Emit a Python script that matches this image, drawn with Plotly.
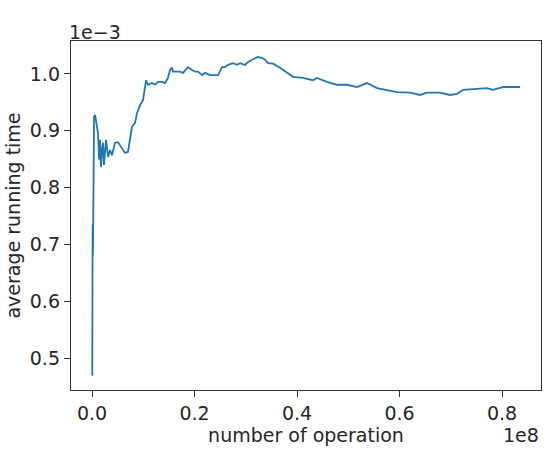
import plotly.graph_objects as go

# number of operation (in units of 1e8)
ops = [0.0, 0.0005, 0.0012, 0.0015, 0.0018, 0.002, 0.004, 0.006, 0.0117, 0.0137, 0.0156,
       0.0176, 0.0195, 0.0215, 0.0234, 0.0273, 0.0312, 0.0351, 0.039, 0.0449, 0.0507,
       0.0566, 0.0644, 0.0702, 0.0741, 0.078, 0.0839, 0.0878, 0.0937, 0.0995, 0.1054,
       0.1093, 0.1171, 0.1229, 0.1288, 0.1366, 0.1424, 0.1483, 0.1522, 0.1561, 0.1580,
       0.1659, 0.1717, 0.1776, 0.1873, 0.1951, 0.2010, 0.2068, 0.2146, 0.2205, 0.2302,
       0.2400, 0.2459, 0.2537, 0.2595, 0.2654, 0.2751, 0.2829, 0.2888, 0.2985, 0.3044,
       0.3122, 0.3180, 0.3239, 0.3317, 0.3376, 0.3434, 0.3532, 0.3668, 0.3805, 0.3922,
       0.4117, 0.4312, 0.4390, 0.4585, 0.4780, 0.4976, 0.5171, 0.5366, 0.5561, 0.5756,
       0.5951, 0.6205, 0.6400, 0.6537, 0.6790, 0.6985, 0.7122, 0.7239, 0.7512, 0.7707,
       0.7824, 0.8020, 0.8351]

# average running time (in units of 1e-3)
avg_time = [0.470, 0.470, 0.735, 0.680, 0.730, 0.700, 0.925, 0.928, 0.896, 0.849, 0.884,
            0.836, 0.866, 0.879, 0.840, 0.884, 0.854, 0.866, 0.857, 0.879, 0.880,
            0.871, 0.861, 0.863, 0.889, 0.907, 0.914, 0.931, 0.945, 0.954, 0.989,
            0.981, 0.984, 0.981, 0.986, 0.986, 0.984, 0.993, 1.007, 1.011, 1.004,
            1.004, 1.004, 1.002, 1.012, 1.007, 1.004, 1.004, 0.998, 1.002, 0.998,
            0.998, 0.998, 1.012, 1.012, 1.016, 1.019, 1.016, 1.019, 1.016, 1.021,
            1.025, 1.028, 1.030, 1.028, 1.025, 1.019, 1.018, 1.011, 1.002, 0.995,
            0.993, 0.989, 0.993, 0.986, 0.981, 0.981, 0.977, 0.984, 0.975, 0.972,
            0.968, 0.967, 0.963, 0.967, 0.967, 0.963, 0.965, 0.972, 0.974, 0.975,
            0.972, 0.977, 0.977]

x_ticks = [0.0, 0.2, 0.4, 0.6, 0.8]
x_tick_labels = ["0.0", "0.2", "0.4", "0.6", "0.8"]
y_ticks = [0.5, 0.6, 0.7, 0.8, 0.9, 1.0]
y_tick_labels = ["0.5", "0.6", "0.7", "0.8", "0.9", "1.0"]

font = "DejaVu Sans"
fs = 19
fig = go.Figure()
fig.add_trace(go.Scatter(x=ops, y=avg_time, mode="lines",
                         line=dict(color="#1f77b4", width=1.8), showlegend=False))

axis_common = dict(showline=True, linecolor="#333333", linewidth=1.4, mirror=True,
                   ticks="outside", ticklen=6, tickwidth=1.4, tickcolor="#333333",
                   showgrid=False, zeroline=False, automargin=False,
                   tickfont=dict(family=font, size=fs, color="#262626"))

fig.update_layout(
    width=555, height=450,
    margin=dict(l=71, r=14, t=41, b=60),
    plot_bgcolor="white", paper_bgcolor="white",
    font=dict(family=font, color="#262626"),
    xaxis=dict(range=[-0.041, 0.876], tickvals=x_ticks, ticktext=x_tick_labels,
               title=dict(text="number of operation", font=dict(family=font, size=fs), standoff=2),
               **axis_common),
    yaxis=dict(range=[0.4437, 1.058], tickvals=y_ticks, ticktext=y_tick_labels,
               title=dict(text="average running time", font=dict(family=font, size=fs), standoff=4),
               **axis_common),
    annotations=[
        dict(text="1e\u22123", xref="paper", yref="paper", x=0, y=1, xanchor="left", yanchor="bottom",
             showarrow=False, font=dict(family=font, size=fs, color="#262626"), xshift=-4, yshift=-4),
        dict(text="1e8", xref="paper", yref="paper", x=1, y=0, xanchor="right", yanchor="top",
             showarrow=False, font=dict(family=font, size=fs, color="#262626"), yshift=-32),
    ],
)

fig.write_html("out.html")
